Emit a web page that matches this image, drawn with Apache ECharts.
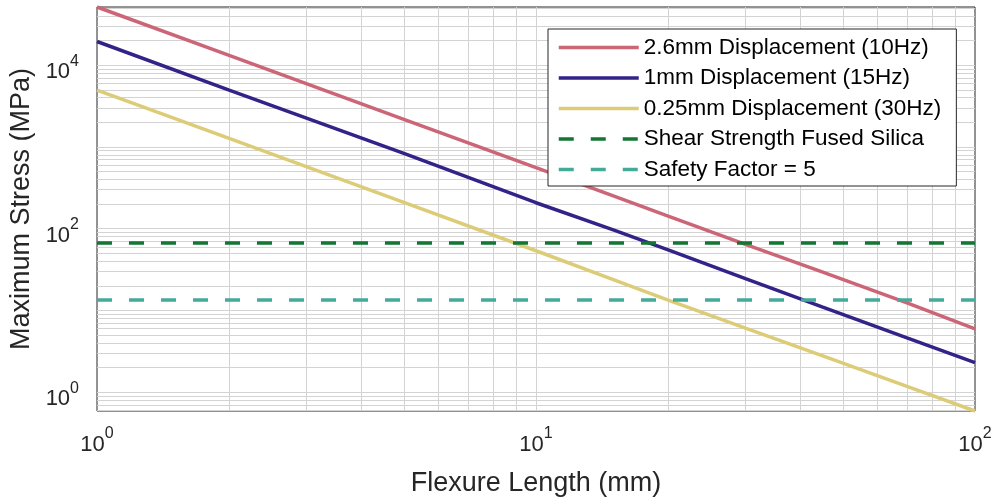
<!DOCTYPE html>
<html><head><meta charset="utf-8">
<script src="https://cdn.jsdelivr.net/npm/echarts@6/dist/echarts.min.js"></script>
<style>html,body{margin:0;padding:0;background:#fff}#c{width:1000px;height:499px}</style>
</head><body><div id="c"></div>
<script>
// Flexure length (mm)
const lengths = [1, 2, 5, 10, 15, 20, 30, 45, 70, 100];
// Maximum stress (MPa)
const stress26mm = [51500, 13190, 2180, 558, 252, 143, 64.4, 29.4, 12.43, 5.96];
const stress1mm = [19500, 4950, 833, 208, 97, 55, 24.5, 11.0, 4.62, 2.30];
const stress025mm = [4970, 1274, 210.6, 53.8, 23.9, 13.4, 6.10, 2.78, 1.18, 0.59];
const shearStrength = 67;
const safetyLimit = 13.4;
const seriesNames = ['2.6mm Displacement (10Hz)', '1mm Displacement (15Hz)', '0.25mm Displacement (30Hz)', 'Shear Strength Fused Silica', 'Safety Factor = 5'];
const xLabelExps = [0, 1, 2];
const yLabelExps = [0, 2, 4];

const FONT = 'Liberation Sans, Arial, Helvetica, sans-serif';
const TXT = '#262626';
const xMin = 1, xMax = 100, yMin = 0.59, yMax = 51500;

function pairs(ys) { return lengths.map((x, i) => [x, ys[i]]); }
function supLabel(exps) {
  return function (v) {
    const e = Math.log10(v), r = Math.round(e);
    if (Math.abs(e - r) > 1e-6 || exps.indexOf(r) < 0) return '';
    return '{b|10}{s|' + r + '}';
  };
}
const rich = {
  b: {fontSize: 22, lineHeight: 38, color: TXT, fontFamily: FONT},
  s: {fontSize: 16, verticalAlign: 'top', color: TXT, fontFamily: FONT}
};

// log grid lines (decades and 2..9 subdivisions)
const gridLines = [];
for (let n = -1; n <= 1; n++) for (let k = 1; k <= 9; k++) {
  const v = k * Math.pow(10, n);
  if (v > xMin * 1.0001 && v < xMax * 0.9999) gridLines.push({xAxis: v});
}
for (let n = -1; n <= 4; n++) for (let k = 1; k <= 9; k++) {
  const v = k * Math.pow(10, n);
  if (v > yMin * 1.0001 && v < yMax * 0.9999) gridLines.push({yAxis: v});
}

const colors = ['#CC6677', '#332288', '#DDCC77', '#117733', '#44AA99'];
const solid = (name, data, c) => ({
  name, type: 'line', data: pairs(data), symbol: 'none', showSymbol: false,
  lineStyle: {color: c, width: 3.5}, itemStyle: {color: c}, z: 3
});
const dashed = (name, v, c) => ({
  name, type: 'line', data: [[xMin, v], [xMax, v]], symbol: 'none', showSymbol: false,
  lineStyle: {color: c, width: 3.5, type: [15, 17]}, itemStyle: {color: c}, z: 4
});

const chart = echarts.init(document.getElementById('c'), null, {renderer: 'canvas'});
chart.setOption({
  animation: false,
  backgroundColor: '#fff',
  textStyle: {fontFamily: FONT},
  grid: {left: 97, right: 25, top: 7, bottom: 88, outerBoundsMode: 'none', containLabel: false,
         show: true, borderColor: '#262626', borderWidth: 1, backgroundColor: 'transparent'},
  xAxis: {
    type: 'log', min: xMin, max: xMax, logBase: 10,
    name: 'Flexure Length (mm)', nameLocation: 'middle', nameGap: 59,
    nameTextStyle: {fontSize: 27, color: TXT, fontFamily: FONT},
    axisLine: {show: false}, axisTick: {show: false},
    splitLine: {show: false}, minorSplitLine: {show: false},
    axisLabel: {interval: 0, margin: 15, formatter: supLabel(xLabelExps), rich: rich, showMinLabel: true, showMaxLabel: true, hideOverlap: false}
  },
  yAxis: {
    type: 'log', min: yMin, max: yMax, logBase: 10,
    name: 'Maximum Stress (MPa)', nameLocation: 'middle', nameGap: 60, nameRotate: 90,
    nameTextStyle: {fontSize: 27, color: TXT, fontFamily: FONT},
    axisLine: {show: false}, axisTick: {show: false},
    splitLine: {show: false}, minorSplitLine: {show: false},
    axisLabel: {interval: 0, margin: 18, padding: [14, 0, 0, 0], formatter: supLabel(yLabelExps), rich: rich, hideOverlap: false}
  },
  legend: {
    orient: 'vertical', left: 548, top: 29, padding: [7, 15, 5, 9], itemGap: 7.5,
    itemWidth: 80, itemHeight: 22, itemTextGap: 6,
    itemStyle: {opacity: 0},
    lineStyle: {width: 3.5},
    textStyle: {fontSize: 22.5, lineHeight: 22, color: '#000', fontFamily: FONT},
    backgroundColor: '#fff', borderColor: '#262626', borderWidth: 1, borderRadius: 0,
    data: seriesNames
  },
  series: [
    {
      name: 'grid', type: 'line', data: [], silent: true, z: 1,
      markLine: {
        silent: true, symbol: ['none', 'none'], label: {show: false}, z: 1, animation: false,
        lineStyle: {color: '#d3d3d3', width: 1, type: 'solid'},
        emphasis: {disabled: true},
        data: gridLines
      }
    },
    solid(seriesNames[0], stress26mm, colors[0]),
    solid(seriesNames[1], stress1mm, colors[1]),
    solid(seriesNames[2], stress025mm, colors[2]),
    dashed(seriesNames[3], shearStrength, colors[3]),
    dashed(seriesNames[4], safetyLimit, colors[4])
  ]
});
</script>
</body></html>
